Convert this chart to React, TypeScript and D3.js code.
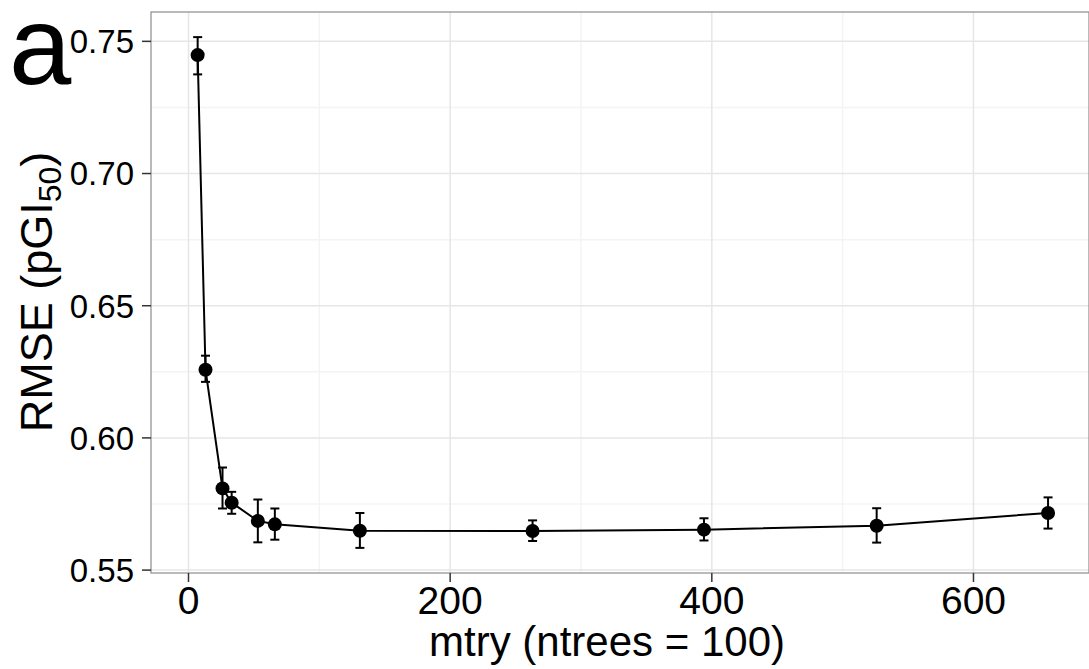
import React from "react";
import * as d3 from "d3";

const mtry = [7, 13, 26, 33, 53, 66, 131, 263, 394, 526, 657];
const rmse = [0.7448, 0.6258, 0.5809, 0.5755, 0.5686, 0.5673, 0.5649, 0.5648, 0.5653, 0.5668, 0.5716];
const lower = [0.7375, 0.6212, 0.5733, 0.5713, 0.5605, 0.5615, 0.5584, 0.561, 0.5612, 0.5604, 0.5657];
const upper = [0.7516, 0.6311, 0.5888, 0.5796, 0.5767, 0.5733, 0.5716, 0.5688, 0.5696, 0.5734, 0.5775];
const xTicks = [0, 200, 400, 600];
const xMinor = [100, 300, 500];
const yTicks = [0.55, 0.6, 0.65, 0.7, 0.75];
const yMinor = [0.575, 0.625, 0.675, 0.725];

const W = 1089;
const H = 669;
const P = { left: 151, right: 1089, top: 12, bottom: 573 };
const FONT = "'Liberation Sans', Arial, Helvetica, sans-serif";

export default function App() {
  const x = d3.scaleLinear().domain([-28.66, 688.3]).range([P.left, P.right]);
  const y = d3.scaleLinear().domain([0.5489, 0.7611]).range([P.bottom, P.top]);
  const pts = mtry.map((m, i) => ({ m, v: rmse[i], lo: lower[i], hi: upper[i] }));
  const line = d3
    .line<{ m: number; v: number }>()
    .x((d) => x(d.m))
    .y((d) => y(d.v));
  const cap = 4.5;
  return (
    <svg
      width={W}
      height={H}
      style={{ position: "absolute", left: 0, top: 0, background: "#fff" }}
      fontFamily={FONT}
    >
      <rect x={0} y={0} width={W} height={H} fill="#fff" />
      {/* minor grid */}
      {xMinor.map((t) => (
        <line key={"xm" + t} x1={x(t)} x2={x(t)} y1={P.top} y2={P.bottom} stroke="#f4f4f4" strokeWidth={1.5} />
      ))}
      {yMinor.map((t) => (
        <line key={"ym" + t} x1={P.left} x2={P.right} y1={y(t)} y2={y(t)} stroke="#f4f4f4" strokeWidth={1.5} />
      ))}
      {/* major grid */}
      {xTicks.map((t) => (
        <line key={"xg" + t} x1={x(t)} x2={x(t)} y1={P.top} y2={P.bottom} stroke="#e6e6e6" strokeWidth={1.5} />
      ))}
      {yTicks.map((t) => (
        <line key={"yg" + t} x1={P.left} x2={P.right} y1={y(t)} y2={y(t)} stroke="#e6e6e6" strokeWidth={1.5} />
      ))}
      {/* panel border */}
      <rect
        x={P.left}
        y={P.top}
        width={P.right - P.left}
        height={P.bottom - P.top}
        fill="none"
        stroke="#8c8c8c"
        strokeWidth={1.2}
      />
      {/* ticks */}
      {yTicks.map((t) => (
        <g key={"yt" + t}>
          <line x1={P.left - 9} x2={P.left} y1={y(t)} y2={y(t)} stroke="#333" strokeWidth={1.5} />
          <text x={134} y={y(t)} dy="0.36em" textAnchor="end" fontSize={33} fill="#000">
            {t.toFixed(2)}
          </text>
        </g>
      ))}
      {xTicks.map((t) => (
        <g key={"xt" + t}>
          <line x1={x(t)} x2={x(t)} y1={P.bottom} y2={P.bottom + 9} stroke="#333" strokeWidth={1.5} />
          <text x={x(t)} y={614} textAnchor="middle" fontSize={39} fill="#000">
            {t}
          </text>
        </g>
      ))}
      {/* error bars */}
      {pts.map((d, i) => (
        <g key={"eb" + i} stroke="#000" strokeWidth={2}>
          <line x1={x(d.m)} x2={x(d.m)} y1={y(d.lo)} y2={y(d.hi)} />
          <line x1={x(d.m) - cap} x2={x(d.m) + cap} y1={y(d.lo)} y2={y(d.lo)} />
          <line x1={x(d.m) - cap} x2={x(d.m) + cap} y1={y(d.hi)} y2={y(d.hi)} />
        </g>
      ))}
      <path d={line(pts) || ""} fill="none" stroke="#000" strokeWidth={2} />
      {pts.map((d, i) => (
        <circle key={"pt" + i} cx={x(d.m)} cy={y(d.v)} r={7} fill="#000" />
      ))}
      {/* axis titles */}
      <text x={607} y={656} textAnchor="middle" fontSize={42} fill="#000">
        mtry (ntrees = 100)
      </text>
      <text transform={`translate(52,${292}) rotate(-90)`} textAnchor="middle" fontSize={45} fill="#000">
        RMSE (pGI
        <tspan fontSize={32} dy={9}>
          50
        </tspan>
        <tspan dy={-9}>)</tspan>
      </text>
      <text x={9} y={84} fontSize={112} fill="#000">
        a
      </text>
    </svg>
  );
}
